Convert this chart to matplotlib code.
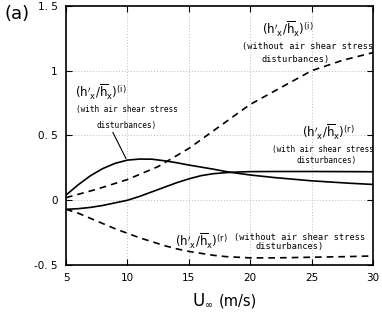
import matplotlib
matplotlib.use("Agg")
import matplotlib.pyplot as plt

# wind speed (m/s)
u_with_i = [5, 6, 7, 8, 9, 10, 11, 12, 13, 14, 15, 16, 17, 18, 19, 20, 22, 25, 28, 30]
with_i = [0.04, 0.12, 0.19, 0.245, 0.285, 0.31, 0.318, 0.317, 0.305, 0.29, 0.272, 0.256, 0.24, 0.222, 0.208, 0.195, 0.175, 0.15, 0.132, 0.122]

u_with_r = [5, 6, 7, 8, 9, 10, 11, 12, 13, 14, 15, 16, 17, 18, 19, 20, 22, 25, 28, 30]
with_r = [-0.07, -0.065, -0.055, -0.04, -0.02, 0.0, 0.03, 0.065, 0.1, 0.135, 0.165, 0.19, 0.205, 0.213, 0.218, 0.221, 0.222, 0.222, 0.221, 0.22]

u_wo_i = [5, 7.5, 10, 12.5, 15, 17.5, 20, 22.5, 25, 27.5, 30]
wo_i = [0.02, 0.085, 0.16, 0.26, 0.40, 0.57, 0.74, 0.87, 1.0, 1.08, 1.14]

u_wo_r = [5, 6, 7, 8, 9, 10, 11, 12, 13, 14, 15, 16, 17, 18, 19, 20, 22, 25, 28, 30]
wo_r = [-0.07, -0.1, -0.14, -0.18, -0.22, -0.255, -0.29, -0.32, -0.35, -0.375, -0.395, -0.41, -0.425, -0.435, -0.44, -0.445, -0.445, -0.44, -0.435, -0.43]

xticks = [5, 10, 15, 20, 25, 30]
yticks = [-0.5, 0, 0.5, 1, 1.5]
ytick_labels = ["-0. 5", "0", "0. 5", "1", "1. 5"]

mono = "DejaVu Sans Mono"

fig = plt.figure(figsize=(3.82, 3.15), dpi=100)
ax = fig.add_axes([0.1728, 0.1587, 0.8036, 0.8223])

lw = 1.2
ax.plot(u_with_i, with_i, color="black", lw=lw)
ax.plot(u_with_r, with_r, color="black", lw=lw)
ax.plot(u_wo_i, wo_i, color="black", lw=lw, ls=(0, (4, 3)))
ax.plot(u_wo_r, wo_r, color="black", lw=lw, ls=(0, (4, 3)))

ax.set_xlim(5, 30)
ax.set_ylim(-0.5, 1.5)
ax.set_xticks(xticks)
ax.set_yticks(yticks)
ax.set_yticklabels(ytick_labels)
ax.tick_params(direction="in", top=True, right=True, length=4, labelsize=7.5, pad=6)
ax.grid(True, ls=(0, (1, 2)), color="#bbbbbb", lw=0.7)
for s in ax.spines.values():
    s.set_linewidth(1.2)

fs_with = 5.6
fs_wo = 6.2
fs_big = 8.5
lab_i = r"$(\mathrm{h}'_\mathrm{x}/\overline{\mathrm{h}}_\mathrm{x})^{(\mathrm{i})}$"
lab_r = r"$(\mathrm{h}'_\mathrm{x}/\overline{\mathrm{h}}_\mathrm{x})^{(\mathrm{r})}$"

# annotation 1: with, (i)
ax.text(5.7, 0.79, lab_i, fontsize=fs_big, ha="left", va="baseline")
ax.text(9.95, 0.70, "(with air shear stress", family=mono, fontsize=fs_with, ha="center", va="center")
ax.text(9.95, 0.577, "disturbances)", family=mono, fontsize=fs_with, ha="center", va="center")
ax.plot([8.82, 9.88], [0.523, 0.323], color="black", lw=0.8)

# annotation 2: without, (i)
ax.text(21.0, 1.28, lab_i, fontsize=fs_big, ha="left", va="baseline")
ax.text(24.7, 1.19, "(without air shear stress", family=mono, fontsize=fs_wo, ha="center", va="center")
ax.text(23.7, 1.09, "disturbances)", family=mono, fontsize=fs_wo, ha="center", va="center")

# annotation 3: with, (r)
ax.text(24.2, 0.48, lab_r, fontsize=fs_big, ha="left", va="baseline")
ax.text(25.9, 0.39, "(with air shear stress", family=mono, fontsize=fs_with, ha="center", va="center")
ax.text(26.2, 0.31, "disturbances)", family=mono, fontsize=fs_with, ha="center", va="center")

# annotation 4: without, (r)
ax.text(13.9, -0.36, lab_r, fontsize=fs_big, ha="left", va="baseline")
ax.text(24.0, -0.285, "(without air shear stress", family=mono, fontsize=fs_wo, ha="center", va="center")
ax.text(23.2, -0.36, "disturbances)", family=mono, fontsize=fs_wo, ha="center", va="center")

# x axis label: U_inf (m/s)
fig.text(192 / 382, 1 - 306 / 315, "U", fontsize=12, ha="left", va="baseline")
fig.text(205 / 382, 1 - 308 / 315, "\u221e", fontsize=7, ha="left", va="baseline")
fig.text(219 / 382, 1 - 306 / 315, "(m/s)", fontsize=10.5, ha="left", va="baseline")

fig.text(0.013, 0.957, "(a)", fontsize=13, ha="left", va="center")

fig.savefig("out.png", dpi=100)
